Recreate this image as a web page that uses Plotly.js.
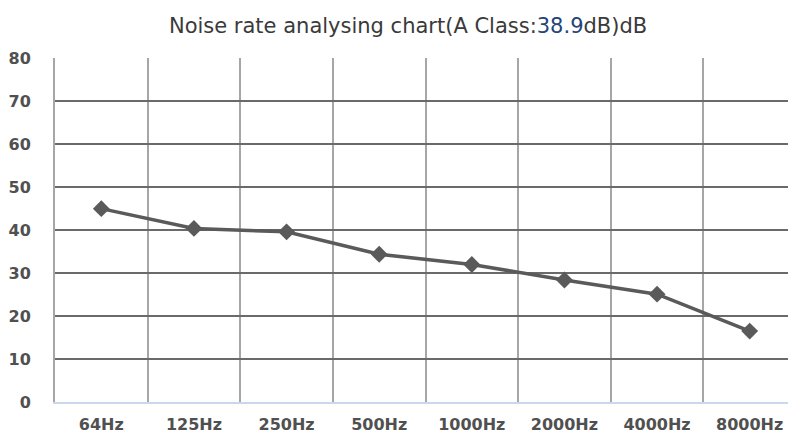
<!DOCTYPE html>
<html>
<head>
<meta charset="utf-8">
<script src="https://cdn.plot.ly/plotly-3.0.1.min.js"></script>
<style>
html,body{margin:0;padding:0;overflow:hidden;background:#fff;}
#chart{width:797px;height:433px;}
</style>
</head>
<body>
<div id="chart"></div>
<script>
const categories = ["64Hz","125Hz","250Hz","500Hz","1000Hz","2000Hz","4000Hz","8000Hz"];
const noiseValues = [45.0, 40.4, 39.6, 34.4, 32.0, 28.4, 25.1, 16.5];
const yTicks = [0,10,20,30,40,50,60,70,80];
const aClassValue = "38.9";

const trace = {
  x: categories,
  y: noiseValues,
  type: "scatter",
  mode: "lines+markers",
  line: {color: "#5a5a5a", width: 3.5},
  marker: {symbol: "diamond", size: 13, color: "#5a5a5a"},
  cliponaxis: false,
  hoverinfo: "skip"
};

const layout = {
  width: 797,
  height: 433,
  margin: {l: 55, r: 1, t: 58, b: 31},
  paper_bgcolor: "#ffffff",
  plot_bgcolor: "#ffffff",
  showlegend: false,
  title: {
    text: 'Noise rate analysing chart(A Class:<span style="color:#23457a">' + aClassValue + '</span>dB)dB',
    font: {family: "DejaVu Sans", size: 21, color: "#3a3a3a"},
    xref: "container", yref: "container",
    x: 0.512, y: 0.94, xanchor: "center", yanchor: "middle"
  },
  xaxis: {
    type: "category",
    categoryarray: categories,
    range: [-0.5, 7.5],
    tickson: "boundaries",
    showgrid: true,
    gridcolor: "#a6a6a6",
    gridwidth: 2,
    ticks: "",
    showline: true,
    linecolor: "#cad8ec",
    linewidth: 2,
    zeroline: false,
    tickfont: {family: "DejaVu Sans", size: 16, weight: "bold", color: "#505050"},
    ticklabelstandoff: 7,
    fixedrange: true
  },
  yaxis: {
    range: [0, 80.06],
    tickvals: yTicks,
    ticktext: yTicks.map(String),
    showgrid: true,
    gridcolor: "#6a6a6a",
    gridwidth: 2,
    zeroline: false,
    showline: true,
    linecolor: "#a6a6a6",
    linewidth: 2,
    ticks: "",
    tickfont: {family: "DejaVu Sans", size: 16, weight: "bold", color: "#505050"},
    ticklabelstandoff: 19,
    fixedrange: true
  }
};

Plotly.newPlot("chart", [trace], layout, {displayModeBar: false, staticPlot: true});
</script>
</body>
</html>
